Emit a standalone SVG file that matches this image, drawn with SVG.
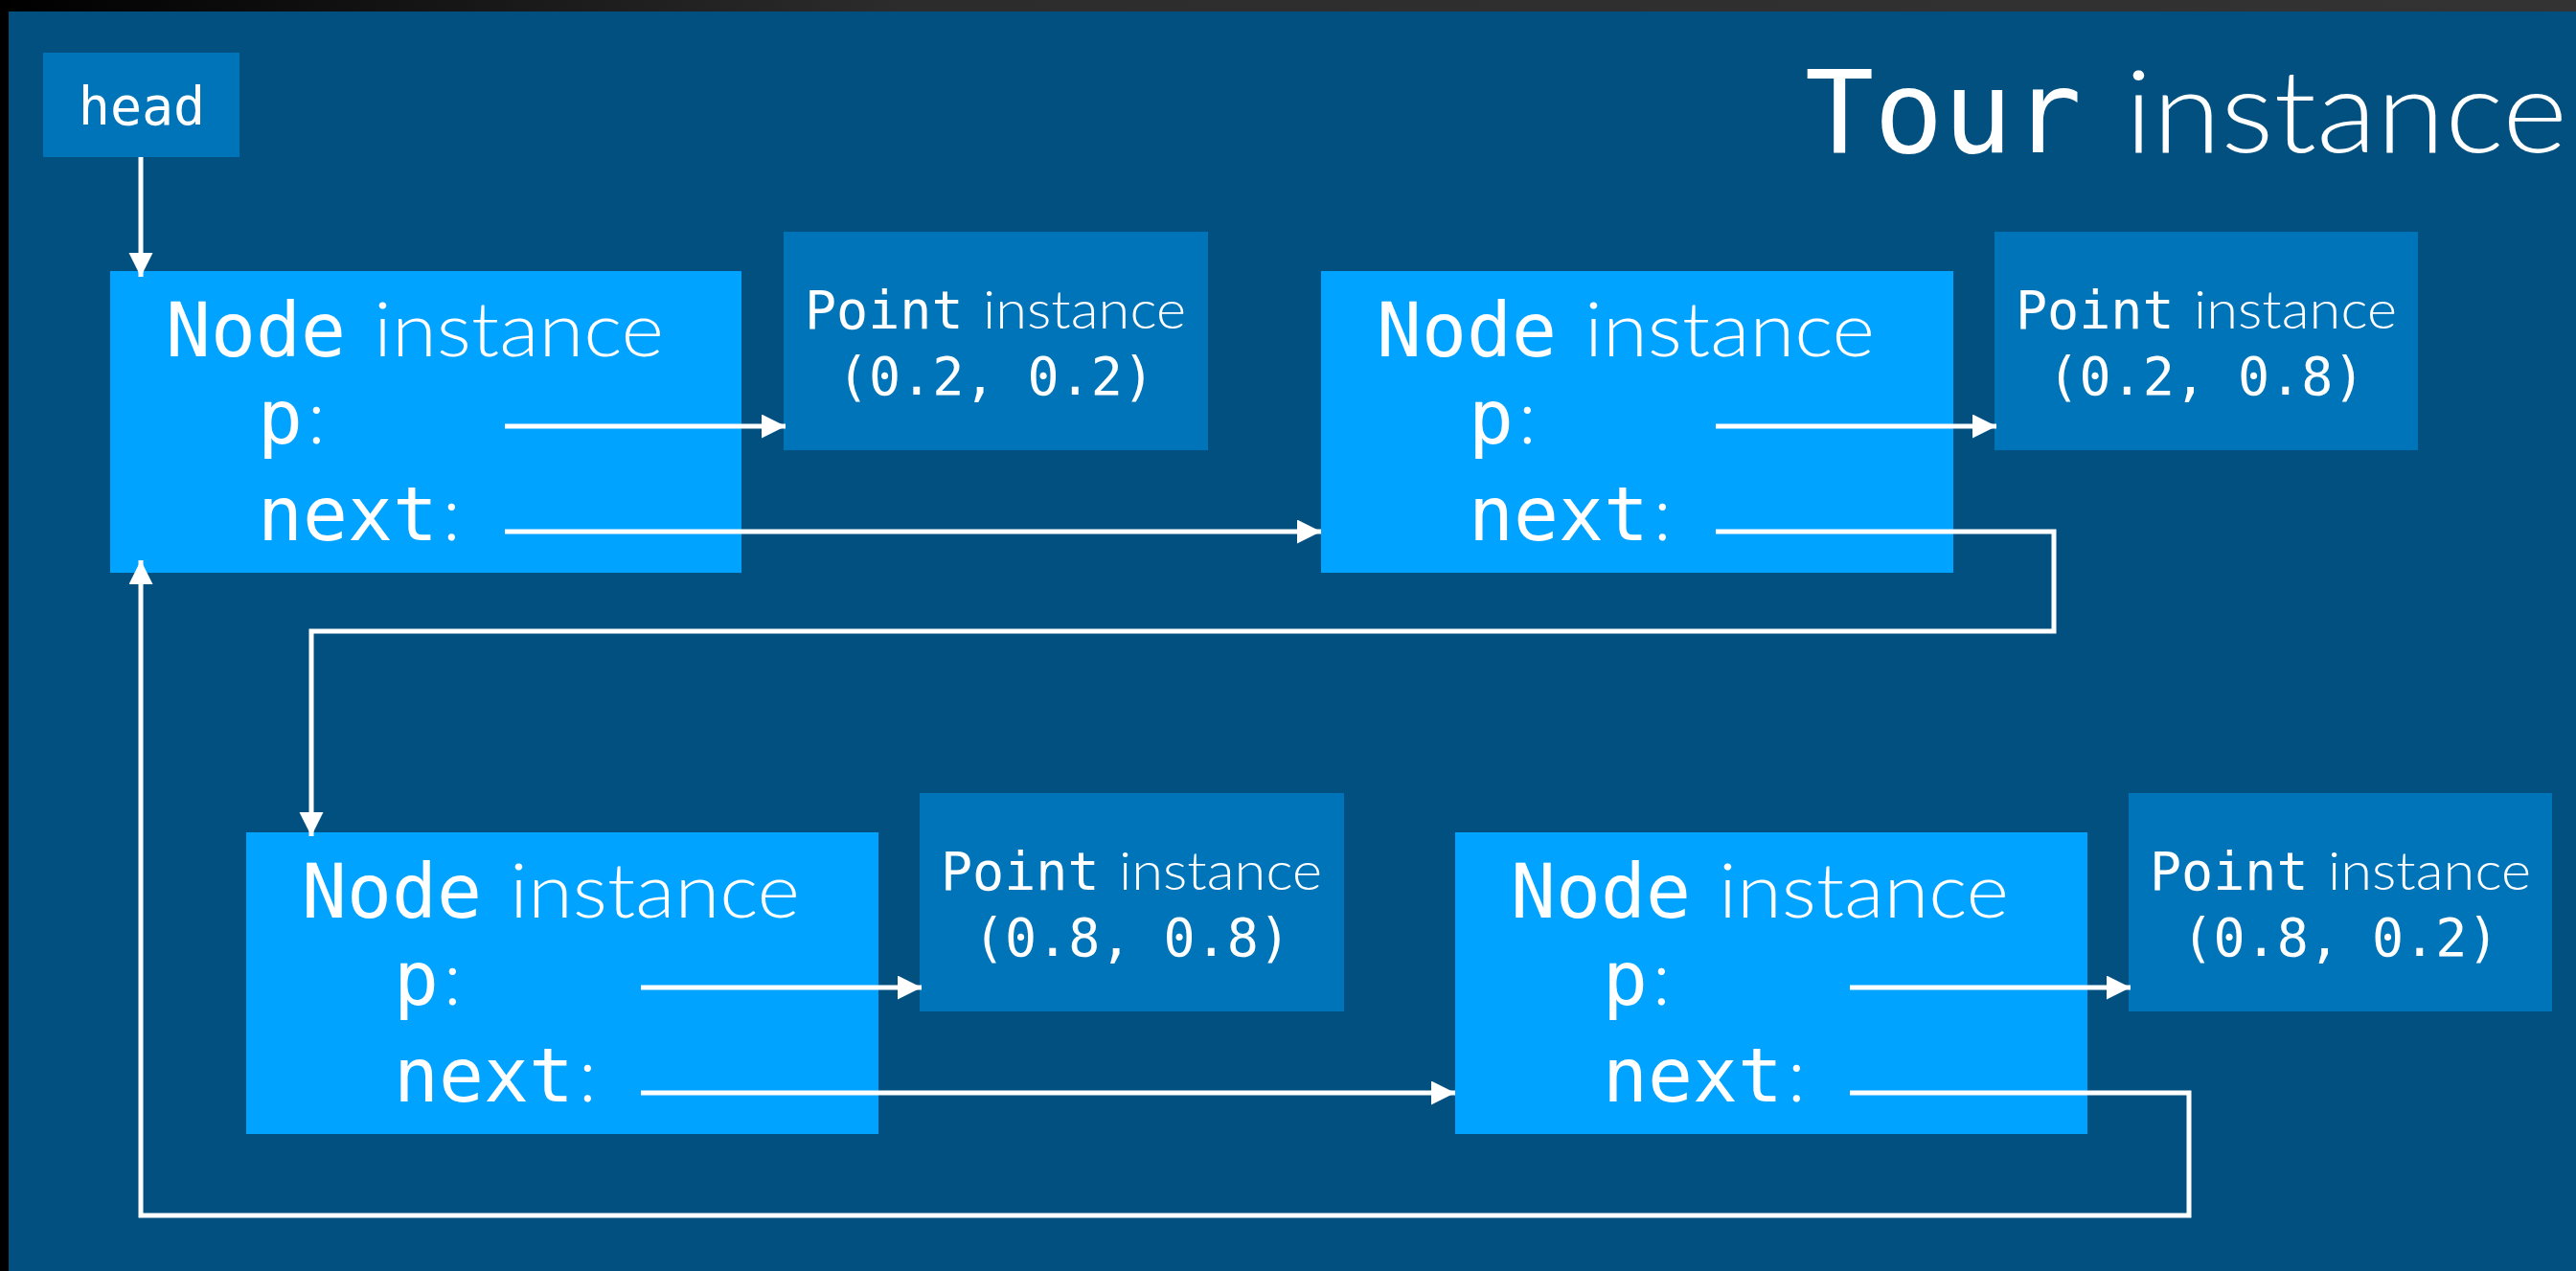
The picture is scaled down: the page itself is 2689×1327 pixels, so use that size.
<svg xmlns="http://www.w3.org/2000/svg" width="2689" height="1327" viewBox="0 0 2689 1327">
<defs>
<linearGradient id="topbar" x1="0" y1="0" x2="1" y2="0">
<stop offset="0" stop-color="#000"/>
<stop offset="0.35" stop-color="#2c2c2c"/>
<stop offset="1" stop-color="#333"/>
</linearGradient>
<marker id="arr" markerUnits="userSpaceOnUse" markerWidth="26" markerHeight="26" refX="25" refY="12.5" orient="auto" viewBox="0 0 26 26">
<path d="M0,0 L25,12.5 L0,25 z" fill="#fff"/>
</marker>
<style>
.bg{fill:#01507F}
.node{fill:#00A3FF}
.pt{fill:#0074B8}
.mono{font-family:"DejaVu Sans Mono","Liberation Mono",monospace;fill:#fff}
.sans{font-family:Lato,"Open Sans","Liberation Sans",sans-serif;font-weight:300;fill:#fff}
.n{font-size:78px}
.p{font-size:55px}
.conn{fill:none;stroke:#fff;stroke-width:5}
</style>
</defs>
<rect x="0" y="0" width="2689" height="1327" class="bg"/>
<rect x="0" y="0" width="2689" height="12" fill="url(#topbar)"/>
<rect x="0" y="0" width="9" height="1327" fill="#000"/>

<g id="title">
<text x="1884" y="159" class="mono" font-size="120">Tour</text>
<text x="2218" y="159" class="sans" font-size="120" textLength="462" lengthAdjust="spacingAndGlyphs">instance</text>
</g>

<g id="head">
<rect x="45" y="55" width="205" height="109" class="pt"/>
<text x="148" y="130" class="mono" font-size="55" text-anchor="middle">head</text>
</g>

<g id="node1" transform="translate(115,283)">
<rect x="0" y="0" width="659" height="315" class="node"/>
<text x="58" y="89" class="mono n">Node</text>
<text x="275" y="89" class="sans n" textLength="303" lengthAdjust="spacingAndGlyphs">instance</text>
<text x="154" y="180" class="mono n">p</text>
<text x="206" y="180" class="sans n">:</text>
<text x="154" y="281" class="mono n">next</text>
<text x="347" y="281" class="sans n">:</text>
</g>

<g id="point1" transform="translate(818,242)">
<rect x="0" y="0" width="443" height="228" class="pt"/>
<text x="22" y="101" class="mono p">Point</text>
<text x="208" y="101" class="sans p" textLength="212" lengthAdjust="spacingAndGlyphs">instance</text>
<text x="221.5" y="170" class="mono p" text-anchor="middle">(0.2, 0.2)</text>
</g>

<g id="node2" transform="translate(1379,283)">
<rect x="0" y="0" width="660" height="315" class="node"/>
<text x="58" y="89" class="mono n">Node</text>
<text x="275" y="89" class="sans n" textLength="303" lengthAdjust="spacingAndGlyphs">instance</text>
<text x="154" y="180" class="mono n">p</text>
<text x="206" y="180" class="sans n">:</text>
<text x="154" y="281" class="mono n">next</text>
<text x="347" y="281" class="sans n">:</text>
</g>

<g id="point2" transform="translate(2082,242)">
<rect x="0" y="0" width="442" height="228" class="pt"/>
<text x="22" y="101" class="mono p">Point</text>
<text x="208" y="101" class="sans p" textLength="212" lengthAdjust="spacingAndGlyphs">instance</text>
<text x="221" y="170" class="mono p" text-anchor="middle">(0.2, 0.8)</text>
</g>

<g id="node3" transform="translate(257,869)">
<rect x="0" y="0" width="660" height="315" class="node"/>
<text x="58" y="89" class="mono n">Node</text>
<text x="275" y="89" class="sans n" textLength="303" lengthAdjust="spacingAndGlyphs">instance</text>
<text x="154" y="180" class="mono n">p</text>
<text x="206" y="180" class="sans n">:</text>
<text x="154" y="281" class="mono n">next</text>
<text x="347" y="281" class="sans n">:</text>
</g>

<g id="point3" transform="translate(960,828)">
<rect x="0" y="0" width="443" height="228" class="pt"/>
<text x="22" y="101" class="mono p">Point</text>
<text x="208" y="101" class="sans p" textLength="212" lengthAdjust="spacingAndGlyphs">instance</text>
<text x="221.5" y="170" class="mono p" text-anchor="middle">(0.8, 0.8)</text>
</g>

<g id="node4" transform="translate(1519,869)">
<rect x="0" y="0" width="660" height="315" class="node"/>
<text x="58" y="89" class="mono n">Node</text>
<text x="275" y="89" class="sans n" textLength="303" lengthAdjust="spacingAndGlyphs">instance</text>
<text x="154" y="180" class="mono n">p</text>
<text x="206" y="180" class="sans n">:</text>
<text x="154" y="281" class="mono n">next</text>
<text x="347" y="281" class="sans n">:</text>
</g>

<g id="point4" transform="translate(2222,828)">
<rect x="0" y="0" width="442" height="228" class="pt"/>
<text x="22" y="101" class="mono p">Point</text>
<text x="208" y="101" class="sans p" textLength="212" lengthAdjust="spacingAndGlyphs">instance</text>
<text x="221" y="170" class="mono p" text-anchor="middle">(0.8, 0.2)</text>
</g>

<g id="connectors">
<path class="conn" d="M147,164 V289" marker-end="url(#arr)"/>
<path class="conn" d="M527,445 H820" marker-end="url(#arr)"/>
<path class="conn" d="M527,555 H1379" marker-end="url(#arr)"/>
<path class="conn" d="M1791,445 H2084" marker-end="url(#arr)"/>
<path class="conn" d="M1791,555 H2144 V659 H325 V873" marker-end="url(#arr)"/>
<path class="conn" d="M669,1031 H962" marker-end="url(#arr)"/>
<path class="conn" d="M669,1141 H1519" marker-end="url(#arr)"/>
<path class="conn" d="M1931,1031 H2224" marker-end="url(#arr)"/>
<path class="conn" d="M1931,1141 H2285 V1269 H147 V585" marker-end="url(#arr)"/>
</g>
</svg>
